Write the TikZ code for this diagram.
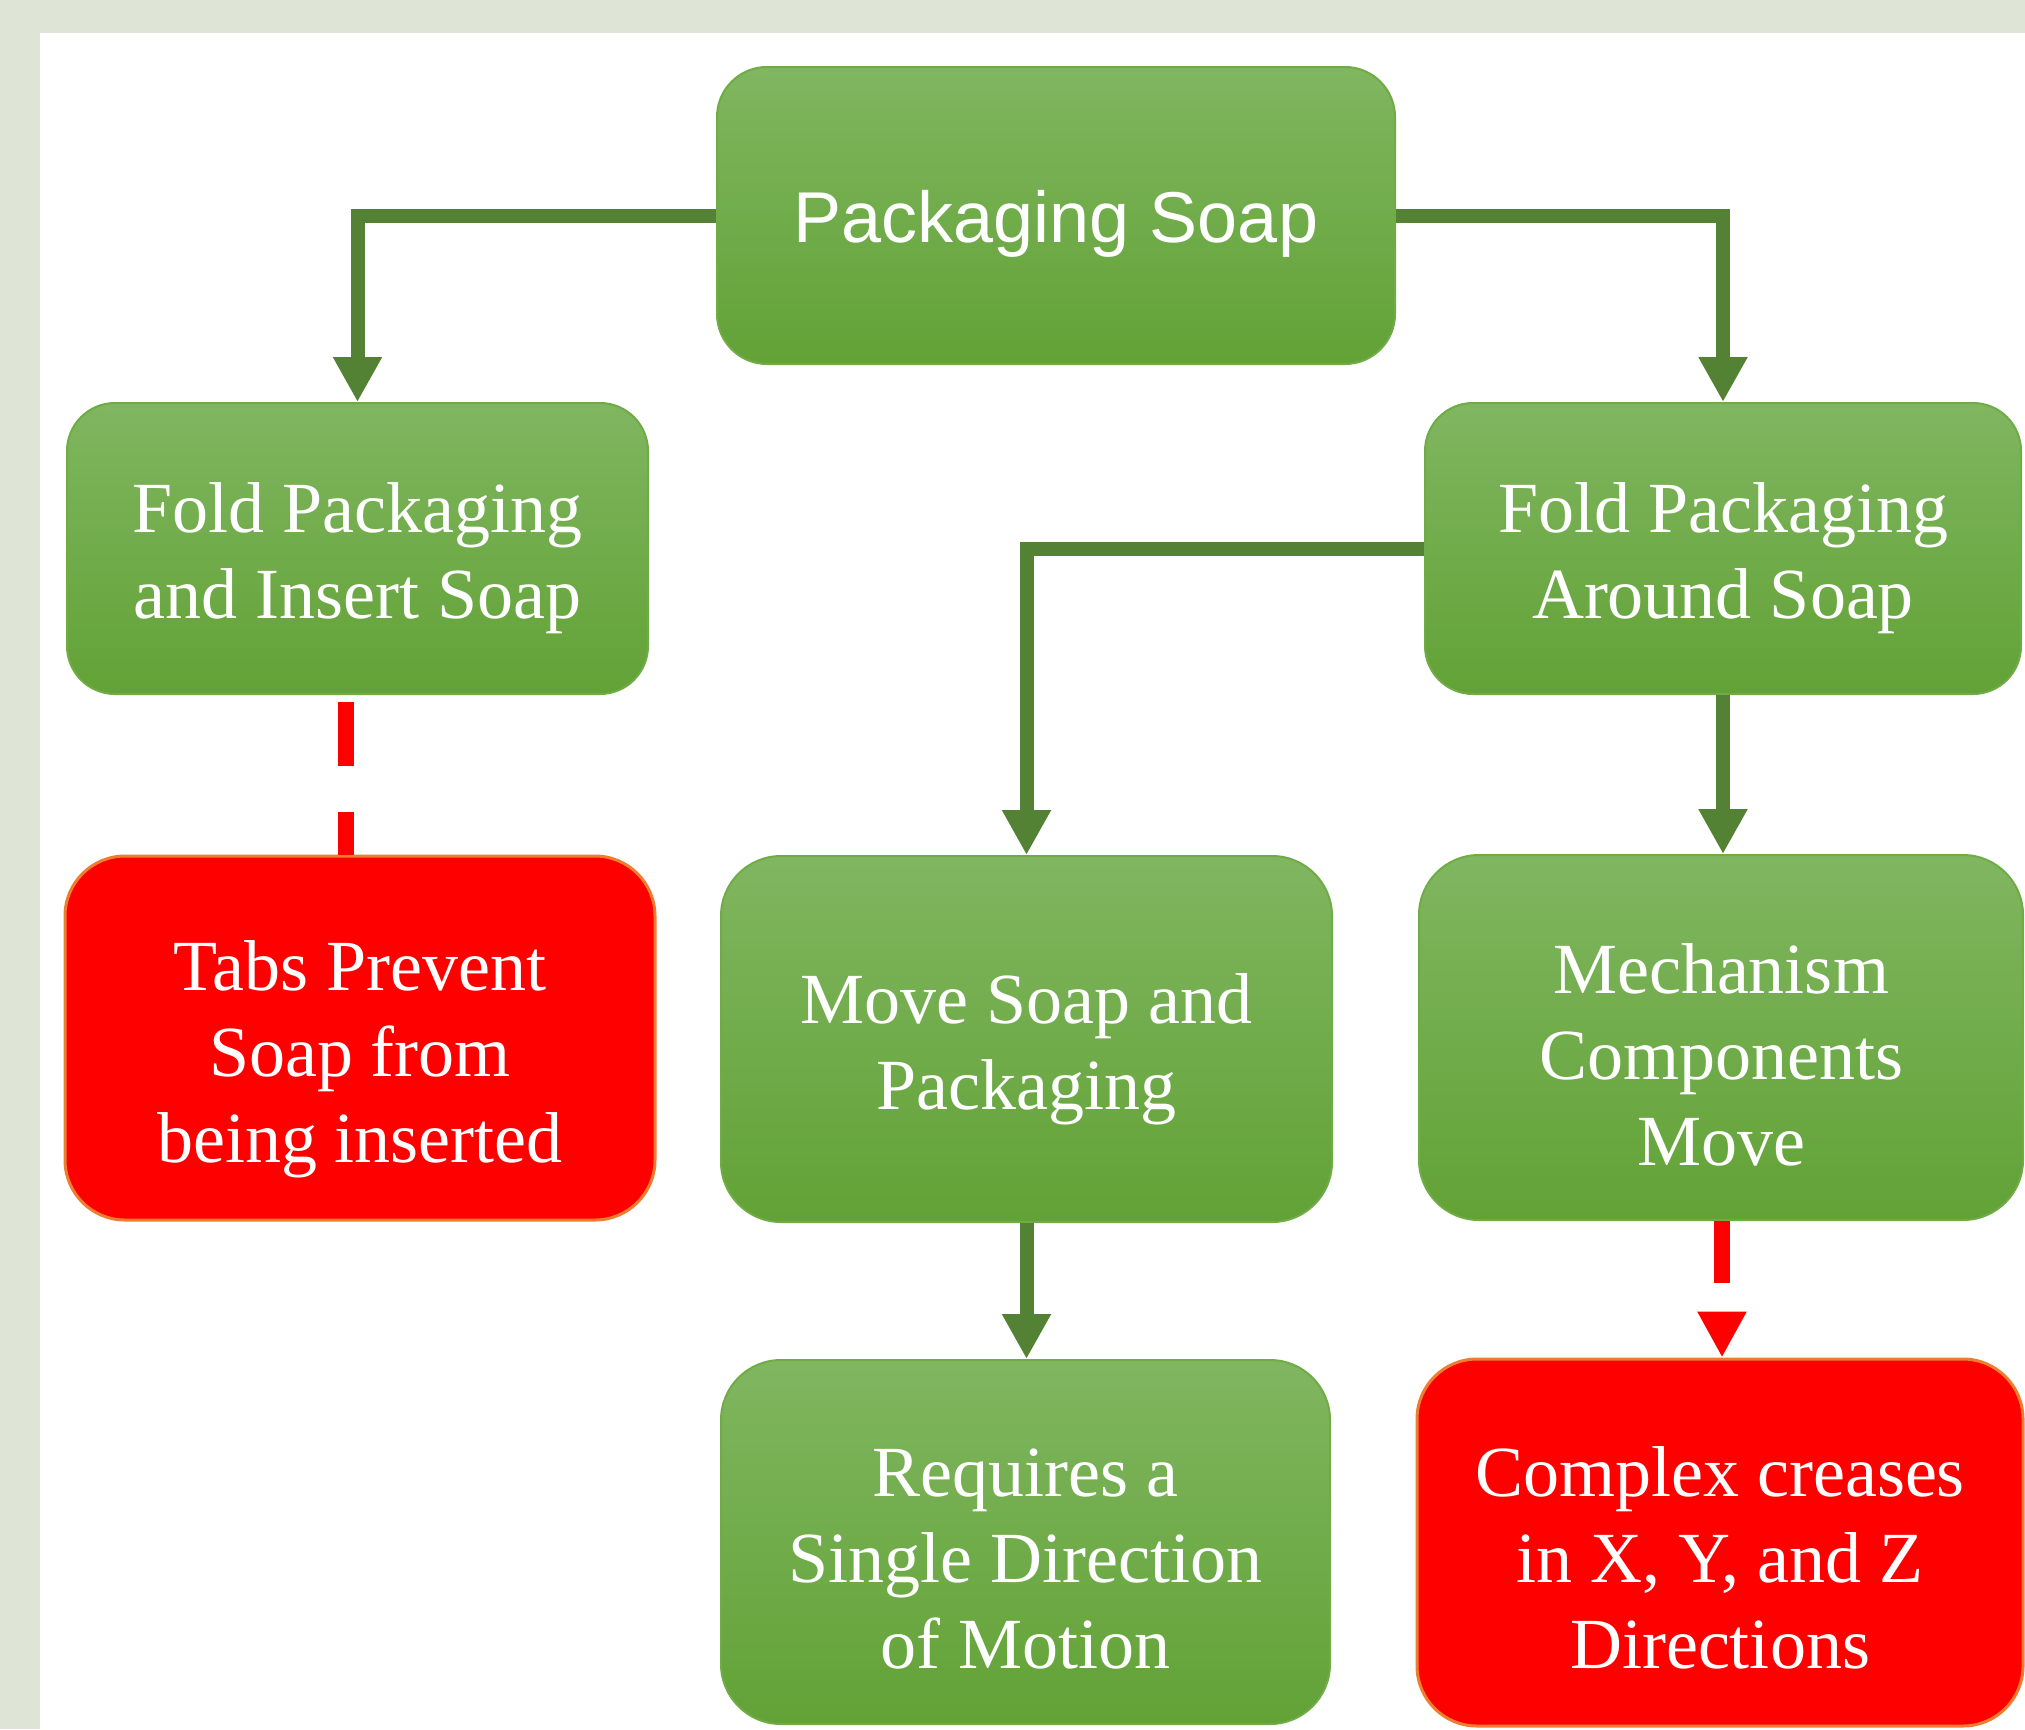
\documentclass[tikz,border=0pt]{standalone}
\usepackage{fontspec}
\setmainfont{Liberation Serif}
\newfontfamily\arialf{Liberation Sans}
\usetikzlibrary{arrows.meta}
\definecolor{bgband}{HTML}{DFE5D6}
\definecolor{gtop}{HTML}{80B660}
\definecolor{gbot}{HTML}{62A236}
\definecolor{gedge}{HTML}{6FAC46}
\definecolor{garrow}{HTML}{548235}
\definecolor{rfill}{HTML}{FF0000}
\definecolor{redge}{HTML}{ED7D31}
\begin{document}
\begin{tikzpicture}[x=1pt,y=-1pt,
  box/.style={rectangle, inner sep=0pt},
  txt/.style={align=center, text=white, inner sep=0pt,
    font=\fontsize{72}{86}\selectfont},
  gbox/.style={box, draw=gedge, line width=2pt, top color=gtop, bottom color=gbot},
  rbox/.style={box, draw=redge, line width=3pt, fill=rfill},
  garr/.style={draw=garrow, line width=14pt, -{Triangle[length=45pt,width=46pt]}},
  rdash/.style={draw=rfill, line width=16pt}
]
\useasboundingbox (0,0) rectangle (2025,1729);
\fill[bgband] (0,0) rectangle (2025,1729);
\fill[white] (40,33) rectangle (2025,1729);

\node[gbox, rounded corners=50pt, minimum width=678pt, minimum height=297pt,
  label={[txt, font=\arialf\fontsize{72}{86}\selectfont, yshift=-8pt]center:Packaging Soap}]
  (top) at (1056,215.5) {};
\node[gbox, rounded corners=48pt, minimum width=581pt, minimum height=291pt,
  label={[txt, yshift=-10pt]center:{Fold Packaging\\and Insert Soap}}]
  (lf) at (357.5,548.5) {};
\node[gbox, rounded corners=48pt, minimum width=596pt, minimum height=291pt,
  label={[txt, yshift=-10pt]center:{Fold Packaging\\Around Soap}}]
  (rf) at (1723,548.5) {};
\node[rbox, rounded corners=60pt, minimum width=590pt, minimum height=364pt,
  label={[txt, yshift=-21pt]center:{Tabs Prevent\\Soap from\\being inserted}}]
  (tabs) at (360,1038) {};
\node[gbox, rounded corners=60pt, minimum width=611pt, minimum height=366pt,
  label={[txt, yshift=-10pt]center:{Move Soap and\\Packaging}}]
  (move) at (1026.5,1039) {};
\node[gbox, rounded corners=60pt, minimum width=604pt, minimum height=365pt,
  label={[txt, yshift=-17pt]center:{Mechanism\\Components\\Move}}]
  (mech) at (1721,1037.5) {};
\node[gbox, rounded corners=60pt, minimum width=609pt, minimum height=364pt,
  label={[txt, yshift=-17pt]center:{Requires a\\Single Direction\\of Motion}}]
  (req) at (1025.5,1542) {};
\node[rbox, rounded corners=60pt, minimum width=606pt, minimum height=367pt,
  label={[txt, yshift=-15pt]center:{Complex creases\\in X, Y, and Z\\Directions}}]
  (cplx) at (1720,1542.5) {};

\draw[garr] (top.west) -| (lf.north);
\draw[garr] (top.east) -| (rf.north);
\draw[garr] (rf.west) -| (move.north);
\draw[garr] (rf.south) -- (rf.south |- mech.north);
\draw[garr] (move.south) -- (move.south |- req.north);
\draw[rdash, dash pattern=on 64pt off 46pt, dash phase=21pt]
  ([xshift=-11.5pt]lf.south |- tabs.north) -- ([xshift=-11.5pt]lf.south);
\draw[rdash, dash pattern=on 62pt off 46pt, -{Triangle[length=46pt,width=46pt]}]
  ([xshift=1pt]mech.south) -- ([xshift=1pt]mech.south |- cplx.north);
\end{tikzpicture}
\end{document}
